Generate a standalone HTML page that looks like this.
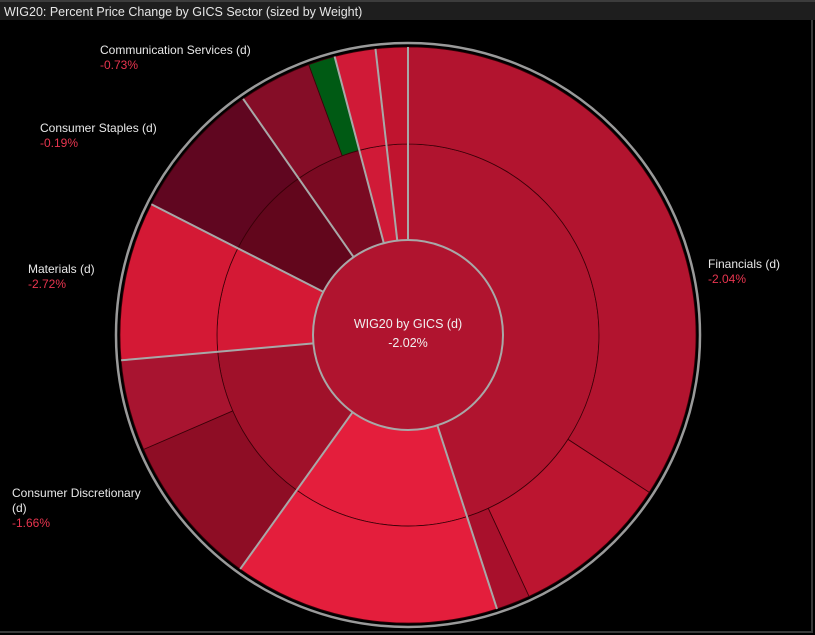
<!DOCTYPE html>
<html><head><meta charset="utf-8">
<style>
html,body{margin:0;padding:0;background:#000;}
body{width:815px;height:635px;overflow:hidden;position:relative;font-family:"Liberation Sans","DejaVu Sans",sans-serif;}
#frame{position:absolute;left:0;top:0;width:813px;height:633px;border-right:2px solid #3a3a3a;border-bottom:2px solid #3a3a3a;box-sizing:border-box;}
#titlebar{position:absolute;left:0;top:0;width:815px;height:20px;background:#1e1e1e;border-top:2px solid #3c3c3c;box-sizing:border-box;}
#title{position:absolute;left:4px;top:3px;font-size:12.5px;color:#e6e6e6;white-space:nowrap;}
.lbl{position:absolute;font-size:12px;color:#e8e8e8;line-height:15px;white-space:nowrap;}
.pct{color:#e8354f;}
svg{position:absolute;left:0;top:0;}
</style></head><body>
<div id="frame"></div>
<div id="titlebar"><div id="title">WIG20: Percent Price Change by GICS Sector (sized by Weight)</div></div>
<svg id="chart" width="815" height="635"></svg>
<div class="lbl" style="left:100px;top:43px">Communication Services (d)<br><span class="pct">-0.73%</span></div>
<div class="lbl" style="left:40px;top:121px">Consumer Staples (d)<br><span class="pct">-0.19%</span></div>
<div class="lbl" style="left:28px;top:262px">Materials (d)<br><span class="pct">-2.72%</span></div>
<div class="lbl" style="left:708px;top:257px">Financials (d)<br><span class="pct">-2.04%</span></div>
<div class="lbl" style="left:12px;top:486px">Consumer Discretionary<br>(d)<br><span class="pct">-1.66%</span></div>
<script>
// sector weights (percent of index), clockwise from 12 o'clock
const sectorNames = ["Financials","Energy","Consumer Discretionary","Materials","Consumer Staples","Communication Services","Utilities","Other"];
const sectorWeights = [45.0, 14.9, 13.7, 8.9, 7.8, 5.6, 2.3, 1.8];
const sectorColors = ["#b0142f","#e41e3c","#a0112a","#d41935","#62061c","#7a0a22","#d01a37","#c0142f"];
// constituent weights per sector (outer ring)
const childWeights = [[34.2, 8.9, 1.9],[14.9],[8.6, 5.1],[8.9],[7.8],[4.1, 1.5],[2.3],[1.8]];
const childColors = [["#b2142f","#bc1530","#a8102c"],["#e41e3c"],["#8e0d25","#a81430"],["#d41935"],["#600620"],["#850d27","#005a14"],["#d01a37"],["#c0142f"]];

const svg = document.getElementById('chart');
const NS = "http://www.w3.org/2000/svg";
const cx = 408, cy = 335, r0 = 95, r1 = 191, r2 = 288, rEdge = 292;
const total = sectorWeights.reduce((a,b)=>a+b,0);
function ang(v){ return v / total * 2 * Math.PI; }
function pt(r,a){ return [cx + r*Math.sin(a), cy - r*Math.cos(a)]; }
function arcPath(ri, ro, a0, a1){
  const large = (a1-a0) > Math.PI ? 1 : 0;
  const p0 = pt(ro,a0), p1 = pt(ro,a1), p2 = pt(ri,a1), p3 = pt(ri,a0);
  return `M${p0[0]},${p0[1]} A${ro},${ro} 0 ${large} 1 ${p1[0]},${p1[1]} L${p2[0]},${p2[1]} A${ri},${ri} 0 ${large} 0 ${p3[0]},${p3[1]} Z`;
}
function mk(tag, attrs){ const e = document.createElementNS(NS, tag); for (const k in attrs) e.setAttribute(k, attrs[k]); return e; }

// outer gray edge
const edge = mk('circle',{cx:cx,cy:cy,r:rEdge,fill:'none',stroke:'#9a9a9a','stroke-width':2.5});


svg.appendChild(edge);

let a = 0;
const boundaries = [];
sectorWeights.forEach((w,i)=>{
  const a0 = a, a1 = a + ang(w);
  const inner = mk('path',{d:arcPath(r0,r1,a0,a1),fill:sectorColors[i],stroke:'#3a0008','stroke-width':0.8});
  
  
  svg.appendChild(inner);
  const cw = childWeights[i], csum = cw.reduce((x,y)=>x+y,0);
  let b = a0;
  cw.forEach((v,j)=>{
    const b1 = b + (a1-a0)*v/csum;
    const outer = mk('path',{d:arcPath(r1,r2,b,b1),fill:childColors[i][j],stroke:'#3a0008','stroke-width':0.8});
    
    
    svg.appendChild(outer);
    b = b1;
  });
  boundaries.push(a0);
  a = a1;
});
// gray sector separators
boundaries.forEach(b=>{
  const p = pt(r0,b), q = pt(r2,b);
  const ln = mk('line',{x1:p[0],y1:p[1],x2:q[0],y2:q[1],stroke:'#a8a8a8','stroke-width':2});
  
  
  svg.appendChild(ln);
});
// center circle
const cc = mk('circle',{cx:cx,cy:cy,r:r0,fill:'#b0142f',stroke:'#a8a8a8','stroke-width':2});


svg.appendChild(cc);
const t1 = mk('text',{x:cx,y:328,'text-anchor':'middle',fill:'#f0f0f0','font-size':12.5,'font-family':'Liberation Sans, sans-serif'});
t1.textContent = 'WIG20 by GICS (d)';


svg.appendChild(t1);
const t2 = mk('text',{x:cx,y:347,'text-anchor':'middle',fill:'#f0f0f0','font-size':12.5,'font-family':'Liberation Sans, sans-serif'});
t2.textContent = '-2.02%';


svg.appendChild(t2);
</script>
</body></html>
